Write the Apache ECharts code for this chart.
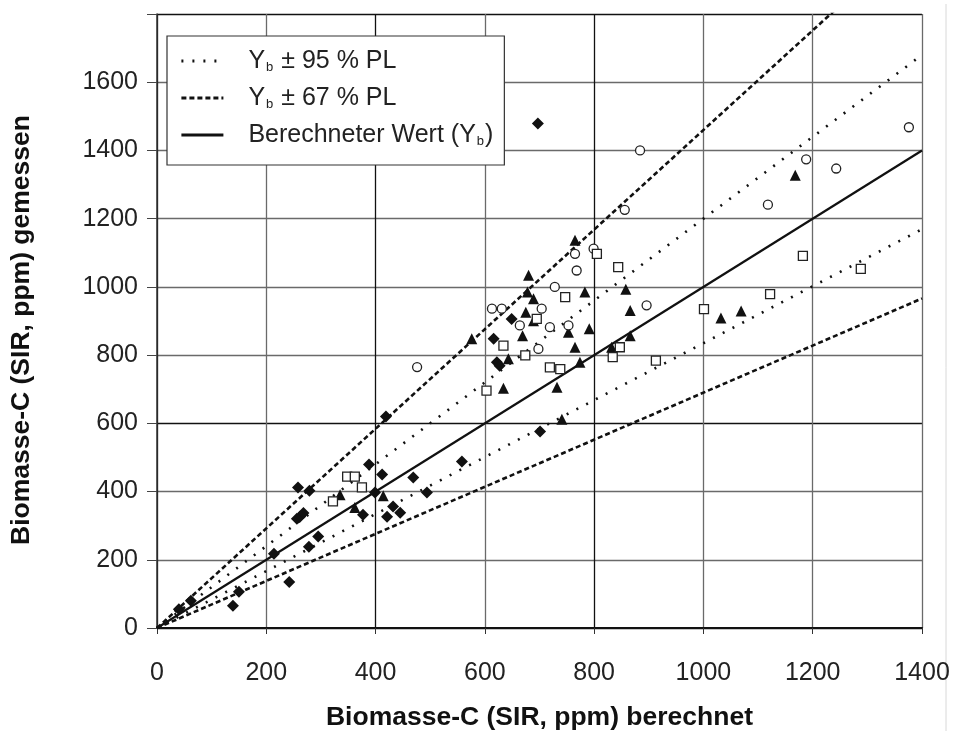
<!DOCTYPE html>
<html><head><meta charset="utf-8">
<script src="https://cdn.jsdelivr.net/npm/echarts/dist/echarts.min.js"></script>
<style>html,body{margin:0;padding:0;background:#fff}#c{width:956px;height:731px}</style>
</head><body><div id="c"></div>
<script>
// ---- data ----
const xTickValues = [0, 200, 400, 600, 800, 1000, 1200, 1400];
const yTickValues = [0, 200, 400, 600, 800, 1000, 1200, 1400, 1600, 1800];
const xAxisTitle = 'Biomasse-C (SIR, ppm) berechnet';
const yAxisTitle = 'Biomasse-C (SIR, ppm) gemessen';

const legendNames = ['Yb ± 95 % PL', 'Yb ± 67 % PL', 'Berechneter Wert (Yb)'];
// reference lines: [x, y] end points
const calcLine   = [[0, 0], [1400, 1400]];
const upper95    = [[0, 0], [1400, 1680]];
const lower95    = [[0, 0], [1400, 1169]];
const upper67    = [[0, 0], [1400, 2044]];
const lower67    = [[0, 0], [1400, 966]];

const diamondPts = [
  [697,1479],[419,620],[388,479],[412,450],[469,441],[558,488],[494,397],[399,397],
  [377,332],[421,326],[432,356],[445,338],[258,412],[279,402],[262,327],[268,337],
  [256,320],[295,268],[278,238],[214,218],[150,106],[139,65],[242,135],
  [616,848],[649,906],[622,779],[627,769],[701,576],[40,55],[62,80]
];
const trianglePts = [
  [765,1137],[680,1034],[678,985],[689,965],[783,985],[858,993],[866,931],[675,926],
  [689,901],[669,857],[753,867],[791,877],[576,848],[765,823],[866,857],[774,779],
  [634,703],[732,706],[741,612],[832,823],[643,789],[335,391],[362,353],[414,388],
  [1032,909],[1069,929],[1168,1327]
];
const circlePts = [
  [476,765],[765,1097],[768,1048],[799,1112],[728,1000],[613,936],[631,936],[704,936],
  [719,882],[753,887],[698,818],[896,946],[664,887],[856,1226],[884,1400],[1118,1241],
  [1188,1374],[1243,1347],[1376,1468]
];
const squarePts = [
  [805,1097],[844,1058],[747,970],[695,906],[634,828],[674,799],[719,764],[738,759],
  [603,696],[847,823],[834,794],[913,784],[348,444],[362,444],[375,412],[322,371],
  [1001,935],[1122,979],[1182,1091],[1288,1053]
];

// ---- chart ----
const FONT = '"Liberation Sans", Arial, sans-serif';
const chart = echarts.init(document.getElementById('c'), null, {renderer: 'canvas'});

const legendRich = {
  f: {fontSize: 25, fontFamily: FONT, color: '#222', padding: [0, 0, 0, 20]},
  n: {fontSize: 25, fontFamily: FONT, color: '#222'},
  s: {fontSize: 13, fontFamily: FONT, color: '#222', verticalAlign: 'bottom', padding: [10, 1, 0, 1]}
};
function legendFmt(name) {
  if (name === legendNames[0]) return '{f|Y}{s|b}{n| ± 95 % PL}';
  if (name === legendNames[1]) return '{f|Y}{s|b}{n| ± 67 % PL}';
  return '{f|Berechneter Wert (Y}{s|b}{n|)}';
}

const xLineColors = xTickValues.map(v => (v === 400 || v === 800 || v === 0) ? '#111' : '#6a6a6a');
const yLineColors = yTickValues.map(v => (v === 0 || v === 600 || v === 1800) ? '#111' : '#6a6a6a');

function lineSeries(name, data, type, width, z) {
  return {
    name, type: 'line', data, symbol: 'none', showSymbol: false, clip: true,
    silent: true, animation: false, z, color: '#111',
    lineStyle: {color: '#111', width, type}
  };
}
function scatterSeries(symbol, size, data, filled) {
  return {
    type: 'scatter', data, symbol, symbolSize: size, animation: false, z: 5,
    itemStyle: filled ? {color: '#111', opacity: 1} : {color: '#fff', borderColor: '#222', borderWidth: 1.3, opacity: 1}
  };
}

chart.setOption({
  animation: false,
  backgroundColor: '#fff',
  textStyle: {fontFamily: FONT},
  grid: {left: 157, right: 34, top: 14, bottom: 103, containLabel: false, outerBoundsMode: 'none'},
  legend: {
    data: legendNames, orient: 'vertical', left: 167, top: 36,
    padding: [12, 11, 17, 13], itemGap: 11, itemWidth: 42, itemHeight: 14,
    backgroundColor: '#fff', borderColor: '#333', borderWidth: 1.2, borderRadius: 0,
    selectedMode: false, formatter: legendFmt,
    itemStyle: {opacity: 0},
    lineStyle: {width: 2.8},
    textStyle: {fontSize: 25, fontFamily: FONT, color: '#222', lineHeight: 26, rich: legendRich}
  },
  xAxis: {
    type: 'value', min: 0, max: 1400, interval: 200,
    name: xAxisTitle, nameLocation: 'middle', nameGap: 76, nameMoveOverlap: false,
    nameTextStyle: {fontSize: 26.5, fontWeight: 'bold', color: '#111', fontFamily: FONT},
    axisLine: {show: true, onZero: false, lineStyle: {color: '#111', width: 2.2}},
    axisTick: {show: true, length: 6, lineStyle: {color: '#333'}},
    axisLabel: {fontSize: 25, color: '#222', margin: 33, fontFamily: FONT, showMaxLabel: true, showMinLabel: true, hideOverlap: false,
      formatter: v => String(v)},
    splitLine: {show: true, lineStyle: {color: xLineColors, width: 1.3}}
  },
  yAxis: {
    type: 'value', min: 0, max: 1800, interval: 200,
    name: yAxisTitle, nameLocation: 'middle', nameGap: 122, nameMoveOverlap: false,
    nameTextStyle: {fontSize: 26.5, fontWeight: 'bold', color: '#111', fontFamily: FONT, padding: [0, 18, 0, 0]},
    axisLine: {show: true, onZero: false, lineStyle: {color: '#333', width: 1.5}},
    axisTick: {show: true, length: 10, lineStyle: {color: '#444'}},
    axisLabel: {fontSize: 25, color: '#222', margin: 19, fontFamily: FONT, hideOverlap: false,
      formatter: v => (v === 1800 ? '' : String(v))},
    splitLine: {show: true, lineStyle: {color: yLineColors, width: 1.3}}
  },
  graphic: [{type: 'line', shape: {x1: 946, y1: 4, x2: 946, y2: 731}, style: {stroke: '#d8d8d8', lineWidth: 1}, silent: true}],
  series: [
    lineSeries(legendNames[0], upper95, [2, 9], 2.6, 3),
    lineSeries(legendNames[0], lower95, [2, 9], 2.6, 3),
    lineSeries(legendNames[1], upper67, [5, 3], 2.6, 3),
    lineSeries(legendNames[1], lower67, [5, 3], 2.6, 3),
    lineSeries(legendNames[2], calcLine, 'solid', 2.2, 3),
    scatterSeries('diamond', 12, diamondPts, true),
    scatterSeries('triangle', 11, trianglePts, true),
    scatterSeries('circle', 9, circlePts, false),
    scatterSeries('rect', 9, squarePts, false)
  ]
});
</script></body></html>
